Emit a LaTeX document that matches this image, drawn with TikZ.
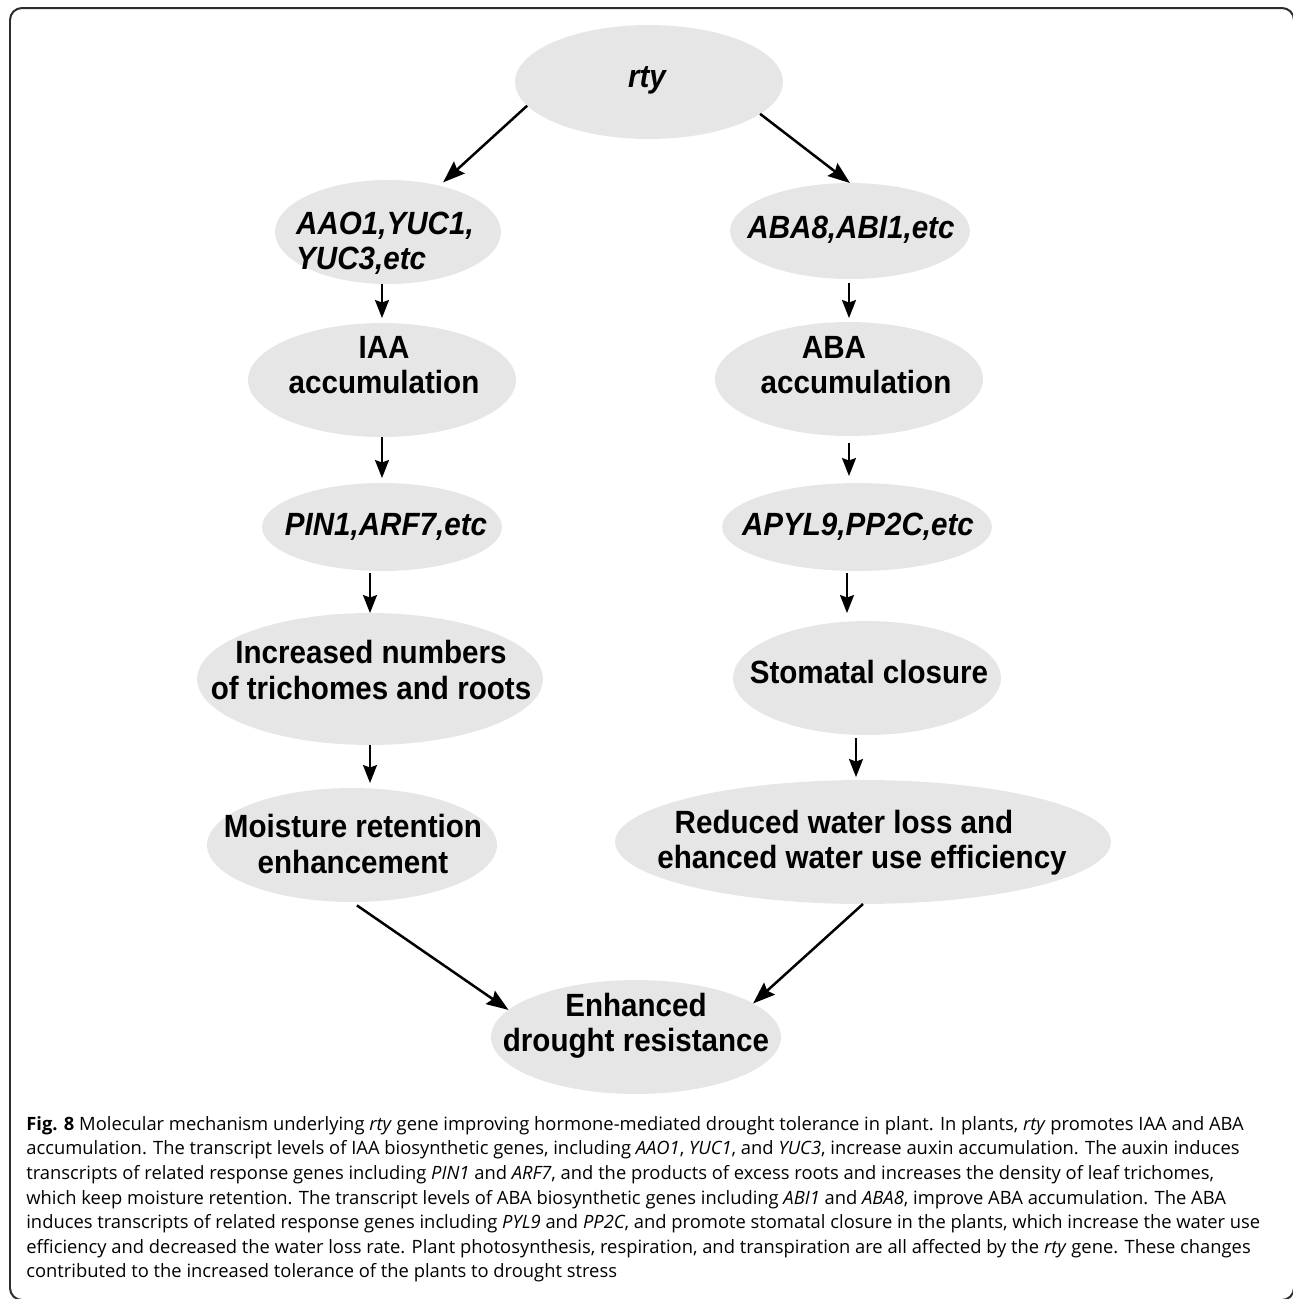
\documentclass[tikz,border=0pt]{standalone}
\usepackage{fontspec}
\setmainfont{Open Sans}
\newfontfamily\nodefont[FakeStretch=0.92]{Liberation Sans}
\usetikzlibrary{shapes.geometric,arrows.meta}

\definecolor{nodegray}{RGB}{230,230,230}
\definecolor{framegray}{RGB}{45,45,45}
\tikzset{
   blob/.style 2 args={ellipse, fill=nodegray, inner sep=0pt, outer sep=0pt,
      minimum width=#1*0.04cm, minimum height=#2*0.04cm},
   lbl/.style={font=\nodefont\bfseries\fontsize{18.3}{20}\selectfont,
      align=center, inner sep=0pt},
   arr/.style={-{Stealth[length=0.36cm,width=0.28cm,inset=0.05cm]},
      line width=0.04cm},
   slant/.style={arr, line width=0.05cm,
      -{Stealth[length=0.44cm,width=0.32cm,inset=0.06cm]}}
}

\begin{document}
\begin{tikzpicture}[x=0.02cm,y=-0.02cm]
            \clip (0,0) rectangle (1293,1299);
            \draw [framegray,line width=0.04cm,rounded corners=0.24cm]
               (10,8) rectangle (1294,1300);

            % ellipses
            \node [blob={134}{57}] (rty) at (649,82) {};
            \node [blob={113}{52}] (aao) at (388,232) {};
            \node [blob={120}{48}] (aba8) at (850,231) {};
            \node [blob={134}{57}] (iaa) at (382,380) {};
            \node [blob={134}{57}] (aba) at (849,379) {};
            \node [blob={120}{44}] (pin) at (382,527) {};
            \node [blob={135}{44}] (apyl) at (857,527) {};
            \node [blob={173}{66}] (incr) at (370,679) {};
            \node [blob={134}{57}] (stom) at (867,678) {};
            \node [blob={145}{57}] (moist) at (352,845) {};
            \node [blob={248}{62}] (reduc) at (863,842) {};
            \node [blob={145}{57}] (enh) at (636,1037) {};

            % texts
            \node [lbl] (rty-t) at (647,80) {\itshape rty};
            \node [lbl,align=left] (aao-t) at (385,243)
               {\itshape AAO1,YUC1,\\\itshape YUC3,etc};
            \node [lbl] (aba8-t) at (851,230) {\itshape ABA8,ABI1,etc};
            \node [lbl] (iaa-t) at (384,365) {IAA\\accumulation};
            \node [lbl] (aba-t) at (856,365)
               {ABA\hspace*{0.88cm}\\accumulation};
            \node [lbl] (pin-t) at (386,527) {\itshape PIN1,ARF7,etc};
            \node [lbl] (apyl-t) at (858,527) {\itshape APYL9,PP2C,etc};
            \node [lbl] (incr-t) at (371,670)
               {Increased numbers\\of trichomes and roots};
            \node [lbl] (stom-t) at (869,672) {Stomatal closure};
            \node [lbl] (moist-t) at (353,844)
               {Moisture retention\\enhancement};
            \node [lbl] (reduc-t) at (862,843)
               {Reduced water loss and\hspace*{0.72cm}\\ehanced water use efficiency};
            \node [lbl] (enh-t) at (636,1026)
               {Enhanced\\drought resistance};

            % arrows
            \draw [slant,shorten >=0.1cm] (rty.191) -- (aao.42);
            \draw [slant] (rty.-16) -- (aba8.north);
            \draw [arr,shorten >=0.1cm] (iaa.north |- aao.south) -- (iaa.north);
            \draw [arr,shorten >=0.1cm] (pin.north |- iaa.south) -- (pin.north);
            \draw [arr,shorten <=0.04cm] (incr.north |- pin.south) -- (incr.north);
            \draw [arr,shorten >=0.1cm] (incr.south) -- (incr.south |- moist.north);
            \draw [arr,shorten <=0.08cm,shorten >=0.08cm]
               (aba.north |- aba8.south) -- (aba.north);
            \draw [arr,shorten <=0.14cm,shorten >=0.14cm]
               (aba.south) -- (aba.south |- apyl.north);
            \draw [arr,shorten <=0.04cm,shorten >=0.16cm]
               ([xshift=-0.2cm]apyl.south) -- ([xshift=-0.2cm]apyl.south |- stom.north);
            \draw [arr,shorten <=0.06cm,shorten >=0.06cm]
               ([xshift=-0.22cm]stom.south) -- ([xshift=-0.22cm]stom.south |- reduc.north);
            \draw [slant,shorten <=0.12cm] (moist.south) -- (enh.168);
            \draw [slant] (reduc.south) -- (enh.16);

            % caption
            \node [anchor=north west,align=left,inner sep=0pt,
               font=\fontsize{10.45}{14}\selectfont] (cap) at (26,1116)
               {\textbf{Fig. 8} Molecular mechanism underlying \textit{rty} gene improving hormone-mediated drought tolerance in plant. In plants, \textit{rty} promotes IAA and ABA\\
               accumulation. The transcript levels of IAA biosynthetic genes, including \textit{AAO1}, \textit{YUC1}, and \textit{YUC3}, increase auxin accumulation. The auxin induces\\
               transcripts of related response genes including \textit{PIN1} and \textit{ARF7}, and the products of excess roots and increases the density of leaf trichomes,\\
               which keep moisture retention. The transcript levels of ABA biosynthetic genes including \textit{ABI1} and \textit{ABA8}, improve ABA accumulation. The ABA\\
               induces transcripts of related response genes including \textit{PYL9} and \textit{PP2C}, and promote stomatal closure in the plants, which increase the water use\\
               efficiency and decreased the water loss rate. Plant photosynthesis, respiration, and transpiration are all affected by the \textit{rty} gene. These changes\\
               contributed to the increased tolerance of the plants to drought stress};
         \end{tikzpicture}
\end{document}
